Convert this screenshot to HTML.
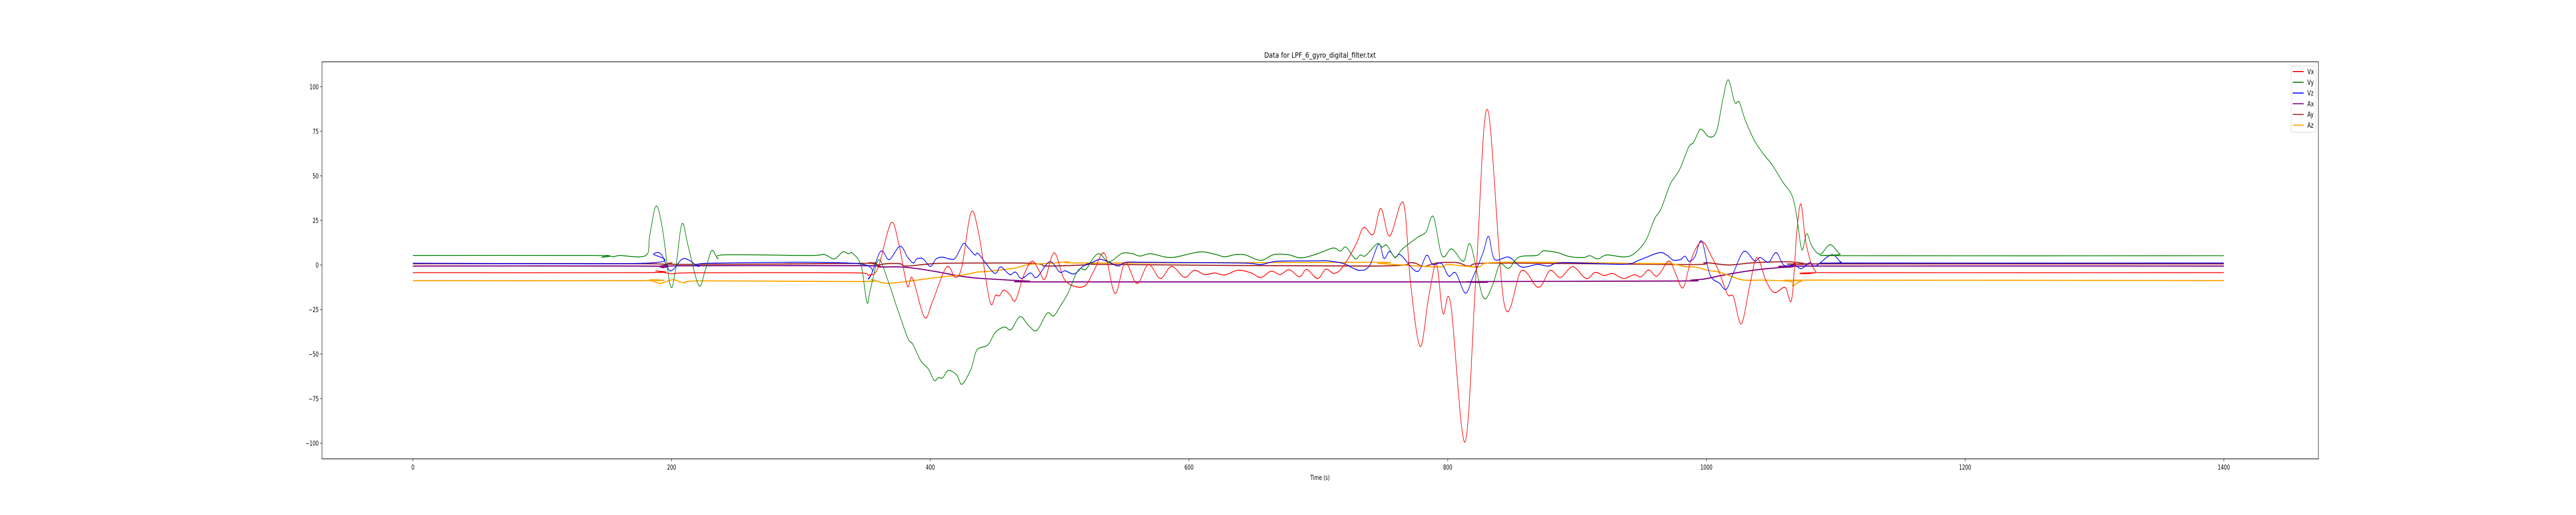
<!DOCTYPE html>
<html><head><meta charset="utf-8">
<meta name="viewport" content="width=7000">
<style>
html,body{margin:0;padding:0;background:#fff;overflow:hidden;width:100vw;height:100vh;}
svg{display:block;width:100vw;height:100vh;font-family:"DejaVu Sans","Liberation Sans",sans-serif;}
</style></head>
<body>
<svg id="chart" viewBox="0 0 7000 1000" preserveAspectRatio="none" xmlns="http://www.w3.org/2000/svg">
<rect x="0" y="0" width="7000" height="1000" fill="#fff"/>
<text x="3587" y="112" font-size="14" text-anchor="middle" textLength="303" lengthAdjust="spacingAndGlyphs">Data for LPF_6_gyro_digital_filter.txt</text>
<g id="series"></g>
<g id="axes"></g>
<text x="3587" y="932" font-size="13" text-anchor="middle">Time (s)</text>
<g id="legend"></g>
</svg>
<script>
const xTicks=[0,200,400,600,800,1000,1200,1400];
const yTicks=[-100,-75,-50,-25,0,25,50,75,100];
const seriesNames=["Vx","Vy","Vz","Ax","Ay","Az"];
const seriesColors=["red","green","blue","purple","brown","orange"];

const vxT=[0,180,188,200,215,306.7,346.6,352.6,359.6,369.6,375.6,382.2,386.2,395.5,401.5,412.5,419.5,424.5,431.5,437.4,446,450.4,453.4,456.8,461.4,465.8,472.4,478.8,484.3,488.7,495.9,504.3,518.3,526.3,534.6,542.8,550.6,559.8,568.6,577.8,586.5,596.5,604.1,612.1,619.7,627.6,637.6,647.5,655.5,663.5,670.5,677.5,685.5,691,699.4,705.8,712.4,719.4,729,735,742.4,748.3,755,763.7,767.3,771.3,778.7,785.3,791.3,796.3,802.2,813.4,822.2,830.8,843.8,857.1,870.1,879.1,887.1,896.7,907,914,921,927.6,936,944,949.5,955.5,962,970.9,976,981.9,987.9,993.7,998.2,1003.6,1009.6,1016.3,1020.9,1027,1033.6,1039,1046.3,1052.6,1060.8,1065.9,1069.8,1073.1,1077.1,1084.4,1098.9,1400];
const vxV=[-4.3,-4.3,-3.4,-4.9,-4.4,-4.3,-4.5,-5.7,-1.6,23.5,11.9,-11.7,-7.4,-29.3,-20.9,-1.3,-6.9,-0.6,29.4,17.7,-20.4,-17,-17.3,-14.1,-16.5,-19.9,-5.4,2.1,-3.5,-7.8,6.8,-8.8,-12.2,-3.5,6.5,-16,1.3,-10.4,0.3,-7.6,-0.8,-6.9,-3,-5.4,-4.5,-5.6,-3,-4.3,-7,-3.5,-5.4,-2.7,-6.6,-2.5,-7.6,-2.4,-4.7,-0.6,11.4,21,17.2,31.7,16.2,34.3,28.3,-10.3,-45.7,-18,0.3,-27.1,-21.3,-99.3,-1.2,87.2,-22.3,-3.1,-12.6,-3.1,-7,-1,-7.6,-4.2,-5.9,-4.8,-7.6,-5.5,-6.6,-2.8,-6.2,2.2,-4.5,-12.8,2.4,11.4,12.4,5.2,-3.5,-16.5,-17.9,-33,-11.2,4.2,-9.3,-15.5,-12.6,-19.4,17.7,34.1,11.9,-3.5,-4.3,-4.3];

const vyT=[0,140,146,150,155,160,180,183,188,193,199,203,208,213,221,226,231,236,241,306.7,317.7,325.7,332.3,336.6,340,346.6,351,353.6,360,366.6,374.6,382.6,386.5,392.5,398.5,403,406.5,409.5,414,420.5,424.5,431.5,436,444.4,450.4,457.4,462.4,469.4,476.4,482.4,490.3,495.3,500.3,506.3,514.3,520.3,525.3,530.7,538.3,548.2,556.2,562.2,570.2,582.1,590.1,608.1,619.7,627.6,635.6,643.6,655.5,665.5,676.5,686.5,699.4,711.4,717,721.4,728.4,732.4,736.4,745.4,749.3,753,759.3,765.3,777.3,783.3,788.9,795.6,803.2,812.2,817.6,827.2,834.2,840.2,847.2,855.1,869.1,874.1,885.1,894.1,905,910,916,923,936,944,953,960,965,972,979.1,986.4,990,994.6,997.3,1002.4,1007.8,1012.7,1016.9,1021.8,1025.4,1030,1037.2,1044.4,1050.8,1059,1066.2,1069.8,1073.8,1077.5,1081.6,1088,1095.6,1103.4,1111.6,1400];
const vyV=[5.3,5.3,4.3,5.4,4.6,5.3,5.3,16,33,20,-11.5,-3,23,10,-11.5,-3,8,3.5,5.7,5.3,5.9,3.4,7.3,6.3,6.5,-0.6,-21,-14,2.8,-7.4,-24.7,-41,-44.5,-53.6,-58.4,-64.7,-63.2,-63.4,-59.2,-61.8,-66.9,-58.4,-47.8,-44.9,-37.7,-34.8,-36.3,-29,-34.3,-36.7,-27.1,-28.6,-23.3,-16,-3,-2.5,3.2,6.3,1.8,6.5,6.3,5,6.3,4.4,4.5,7.3,6.1,4.6,5.8,5.6,2.6,5.8,5.8,4,6.3,9.5,7.8,10,3.5,5.6,5.2,11.9,10,11,4.4,9.2,15.8,18.6,27.1,5.2,9,2.1,11.4,-17.8,-12.2,0.3,-1.8,4.4,5.4,7.9,6.9,4.7,4.2,5.2,3.4,5.6,4.5,6.3,13.6,26,31.6,45.3,53.3,66.3,68.7,75.7,75.5,71.8,75,92.8,103.9,91.4,91.4,81.3,69.7,62,56.2,46.6,38.9,27.3,8.6,17.5,10.5,6,11.4,6.1,5.2,5.2];

const vzT=[0,180,186,192,199,208,214,221,231,344.6,352.2,361.6,368.2,376.6,382.6,387,389.5,394.5,400,404.5,409.5,414.5,419.5,425.5,429.5,434.5,437.4,449.4,454.4,461.4,465.8,470.4,477.4,482.3,492.3,500,504.3,511.3,518.3,526.3,531.3,538.3,545.2,551.2,566.2,639.6,655.5,668.5,699.4,707.4,719.4,731.4,739.4,746.7,750.7,755,759.3,763.7,776.3,783.7,788.3,795.2,800.8,806.2,813.6,819.2,827.2,831.6,836.2,847.2,857.1,869.1,878.1,889.1,936,948,963.5,970,974.3,980,983.5,986.5,991,996.4,1002.7,1010,1015.4,1020.9,1029,1037.2,1041.7,1048,1053.9,1059.9,1068,1073.5,1079.8,1084.4,1096.7,1104.3,1111.6,1400];
const vzV=[1,1,6.2,6,-3.3,3.2,2.5,-0.8,1,0.7,-7.8,7.6,3,10.5,4.2,1.1,3.4,3.4,-0.8,3.4,4.4,3.4,4,11.9,9.5,5.6,6.1,-4.5,-1.1,-5.4,-4,-7.6,-4.5,-6.9,1.8,-4,-3.3,-5,-0.6,1.8,3.2,1.5,-0.6,1.5,1.5,1.1,0.3,2.1,2.3,2.3,0.8,-3,-0.6,11.7,3.7,7.6,4.2,5.6,-3.7,5.4,0.3,0.8,-6.2,-4.5,-15.8,-7.4,6.6,16,3.2,4.4,-1.1,0.3,-0.6,1.3,0.4,2.7,6.9,5.2,2.7,3.1,4.9,2.1,4.5,13.4,-5.4,-10.2,-13.6,-4.4,7.6,2.3,4.2,1.5,6.9,-0.1,-0.1,-2,1.3,-0.6,5.7,1.5,1.1,1.1];

const axT=[0,180,193,205,346.6,360.6,376.6,390.5,406.5,422.5,436.4,456.4,476.4,492.3,800,823,826,980,988.2,999,1011.8,1030.8,1048,1066.2,1084.4,1400];
const axV=[-0.6,-0.6,-1.5,-0.5,-0.4,-1.1,-1.1,-2.1,-4,-6.2,-7.4,-8.3,-9.1,-9.5,-9.5,-9.8,-9.3,-9,-8.5,-7.8,-5.9,-3.5,-2,-1.1,-0.6,-0.6];

const ayT=[0,180,192,200,210,346.6,352.6,359.6,366,376.6,382,406.5,450,476.4,486,490,518.3,526.3,540,743.4,771.3,781.3,791.3,807.2,817.2,837.2,984.6,999,1017.2,1037.2,1065.3,1067,1069.8,1078.9,1088,1400];
const ayV=[0.7,0.7,-0.5,1.2,0.3,0.9,1.2,0.1,0.7,0.7,-0.6,0.9,1.1,1.0,0.3,-0.6,0,0.8,0.3,-0.6,1.3,-0.8,1.1,1.3,-0.6,1.1,0.2,1.3,0,1.3,1.8,0.4,1.5,0.4,0.6,0.6];

const azT=[0,180,183,191,201,210,225,346.6,354.6,366.6,386.5,406.5,426.5,436.4,446.4,466.4,476.4,496.3,506.3,526.3,739.4,747.3,792.3,800,823.2,841.2,956,972,984,991,1001,1010,1019,1029,1044.4,1065.3,1066.8,1073.5,1088,1400];
const azV=[-8.8,-8.8,-8.4,-10.3,-8.3,-10,-8.9,-9.3,-8.3,-10.3,-8.8,-6.9,-5.4,-4,-3.5,-1.6,0.3,1.1,1.8,1.1,1.5,0.8,-1.1,0.3,-1.1,1.5,0.8,0.8,-1,-1.1,-3,-4,-6.4,-8.5,-8.5,-9.3,-11.7,-9.1,-8.5,-8.8];

const seriesT=[vxT,vyT,vzT,axT,ayT,azT];
const seriesV=[vxV,vyV,vzV,axV,ayV,azV];

const L=875,R=6300,T=120,B=891;
function xs(t){return 1122+t*3.515;}
function ys(v){return 514.5-v*3.46;}
const NS="http://www.w3.org/2000/svg";
function mk(tag,attrs,parent){const e=document.createElementNS(NS,tag);for(const k in attrs)e.setAttribute(k,attrs[k]);parent.appendChild(e);return e;}

const sg=document.getElementById('series');
const drawOrder=[4,3,5,2,1,0];
drawOrder.forEach(function(i){
  const ts=seriesT[i],vs=seriesV[i];
  const p=ts.map(function(t,j){return [xs(t),ys(vs[j])];});
  let d="M"+p[0][0].toFixed(1)+","+p[0][1].toFixed(1);
  for(let j=0;j<p.length-1;j++){
    const p0=p[j>0?j-1:j],p1=p[j],p2=p[j+1],p3=p[j+2<p.length?j+2:j+1];
    const c1x=p1[0]+(p2[0]-p0[0])/6,c1y=p1[1]+(p2[1]-p0[1])/6;
    const c2x=p2[0]-(p3[0]-p1[0])/6,c2y=p2[1]-(p3[1]-p1[1])/6;
    d+=" C"+c1x.toFixed(1)+","+c1y.toFixed(1)+" "+c2x.toFixed(1)+","+c2y.toFixed(1)+" "+p2[0].toFixed(1)+","+p2[1].toFixed(1);
  }
  const path=mk('path',{d:d,fill:'none',stroke:seriesColors[i],'stroke-width':(i<3?1.6:2.2),'stroke-linejoin':'round'},sg);
  
  
});

const ag=document.getElementById('axes');
const frame=mk('rect',{x:L,y:T,width:R-L,height:B-T,fill:'none',stroke:'#000','stroke-width':1.2},ag);


xTicks.forEach(function(t){
  const x=xs(t);
  const tk=mk('line',{x1:x,y1:B,x2:x,y2:B+5,stroke:'#000','stroke-width':1},ag);
  
  
  const lb=mk('text',{x:x,y:B+21,'font-size':13,'text-anchor':'middle'},ag);
  lb.textContent=String(t);
  
  
});
yTicks.forEach(function(v){
  const y=ys(v);
  const tk=mk('line',{x1:L-5,y1:y,x2:L,y2:y,stroke:'#000','stroke-width':1},ag);
  
  
  const lb=mk('text',{x:L-9,y:y+5,'font-size':13,'text-anchor':'end'},ag);
  lb.textContent=(v<0?'\u2212'+Math.abs(v):String(v));
  
  
});

const lg=document.getElementById('legend');
const box=mk('rect',{x:6226,y:128,width:67,height:129,rx:3,fill:'#fff','fill-opacity':0.8,stroke:'#ccc','stroke-width':1},lg);


seriesNames.forEach(function(n,i){
  const y=139+i*20.8;
  const ln=mk('line',{x1:6230,y1:y,x2:6260,y2:y,stroke:seriesColors[i],'stroke-width':2},lg);
  
  
  const tx=mk('text',{x:6270,y:y+5,'font-size':14},lg);
  tx.textContent=n;
  
  
});
</script>
</body></html>
